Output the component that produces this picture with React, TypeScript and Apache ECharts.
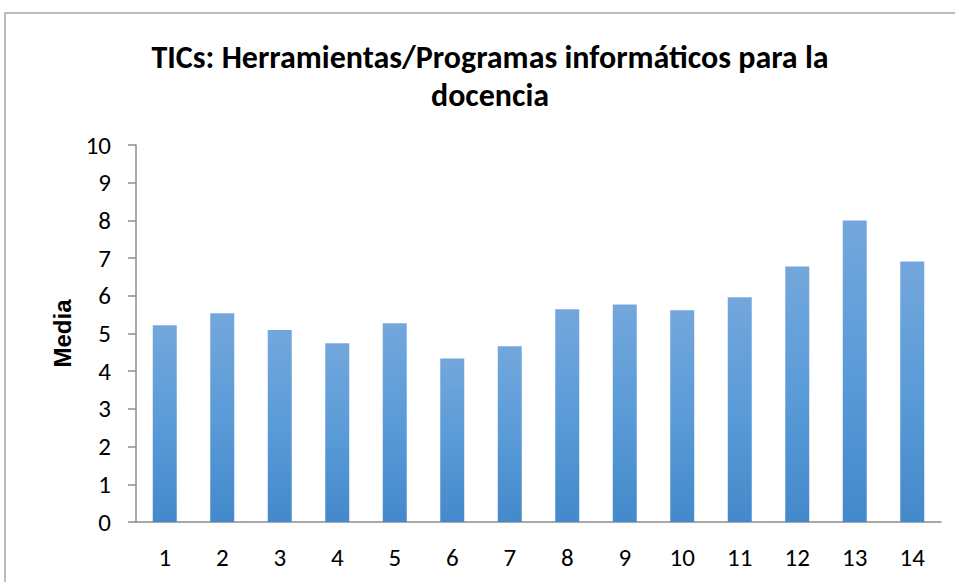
import React, { useEffect, useRef } from "react";
import * as echarts from "echarts";

const categories = ["1", "2", "3", "4", "5", "6", "7", "8", "9", "10", "11", "12", "13", "14"];
const values = [5.22, 5.54, 5.09, 4.74, 5.27, 4.34, 4.66, 5.64, 5.77, 5.62, 5.96, 6.78, 8.0, 6.91];
const titleText = "TICs: Herramientas/Programas informáticos para la\ndocencia";
const yAxisName = "Media";

const FONT = "Carlito, 'Liberation Sans Narrow', 'Open Sans', sans-serif";

export default function App() {
  const ref = useRef<HTMLDivElement>(null);
  useEffect(() => {
    if (!ref.current) return;
    const chart = echarts.init(ref.current, null, { renderer: "svg" });
    chart.setOption({
      animation: false,
      backgroundColor: "#ffffff",
      graphic: [
        {
          type: "rect",
          shape: { x: 5, y: 13, width: 1200, height: 1000 },
          style: { fill: "none", stroke: "#a6a6a6", lineWidth: 1.5 },
          z: 0,
        },
        {
          type: "text",
          x: 490,
          y: 38,
          style: {
            text: titleText,
            textAlign: "center",
            textVerticalAlign: "top",
            fontFamily: FONT,
            fontWeight: "bold",
            fontSize: 32,
            lineHeight: 38,
            fill: "#000000",
          },
        },
      ],
      grid: { left: 136, right: 14, top: 145, bottom: 60, containLabel: false },
      xAxis: {
        type: "category",
        data: categories,
        axisLine: { show: true, lineStyle: { color: "#8c8c8c", width: 1.5 } },
        axisTick: { show: false },
        axisLabel: { color: "#000", fontFamily: FONT, fontSize: 25, margin: 23 },
      },
      yAxis: {
        type: "value",
        min: 0,
        max: 10,
        interval: 1,
        name: yAxisName,
        nameLocation: "middle",
        nameGap: 60,
        nameTextStyle: { fontFamily: "'Liberation Sans', Arial, sans-serif", fontWeight: "bold", fontSize: 24, color: "#000" },
        axisLine: { show: true, lineStyle: { color: "#8c8c8c", width: 1.5 } },
        axisTick: { show: true, length: 8, lineStyle: { color: "#8c8c8c", width: 1.5 } },
        splitLine: { show: false },
        axisLabel: { color: "#000", fontFamily: FONT, fontSize: 25, margin: 25 },
      },
      series: [
        {
          type: "bar",
          data: values,
          barWidth: 24,
          itemStyle: {
            color: new echarts.graphic.LinearGradient(0, 0, 0, 1, [
              { offset: 0, color: "#73a7dc" },
              { offset: 0.5, color: "#5a9bd8" },
              { offset: 1, color: "#4489cb" },
            ]),
          },
        },
      ],
    });
    return () => chart.dispose();
  }, []);
  return <div ref={ref} style={{ position: "absolute", left: 0, top: 0, width: 955, height: 582 }} />;
}
